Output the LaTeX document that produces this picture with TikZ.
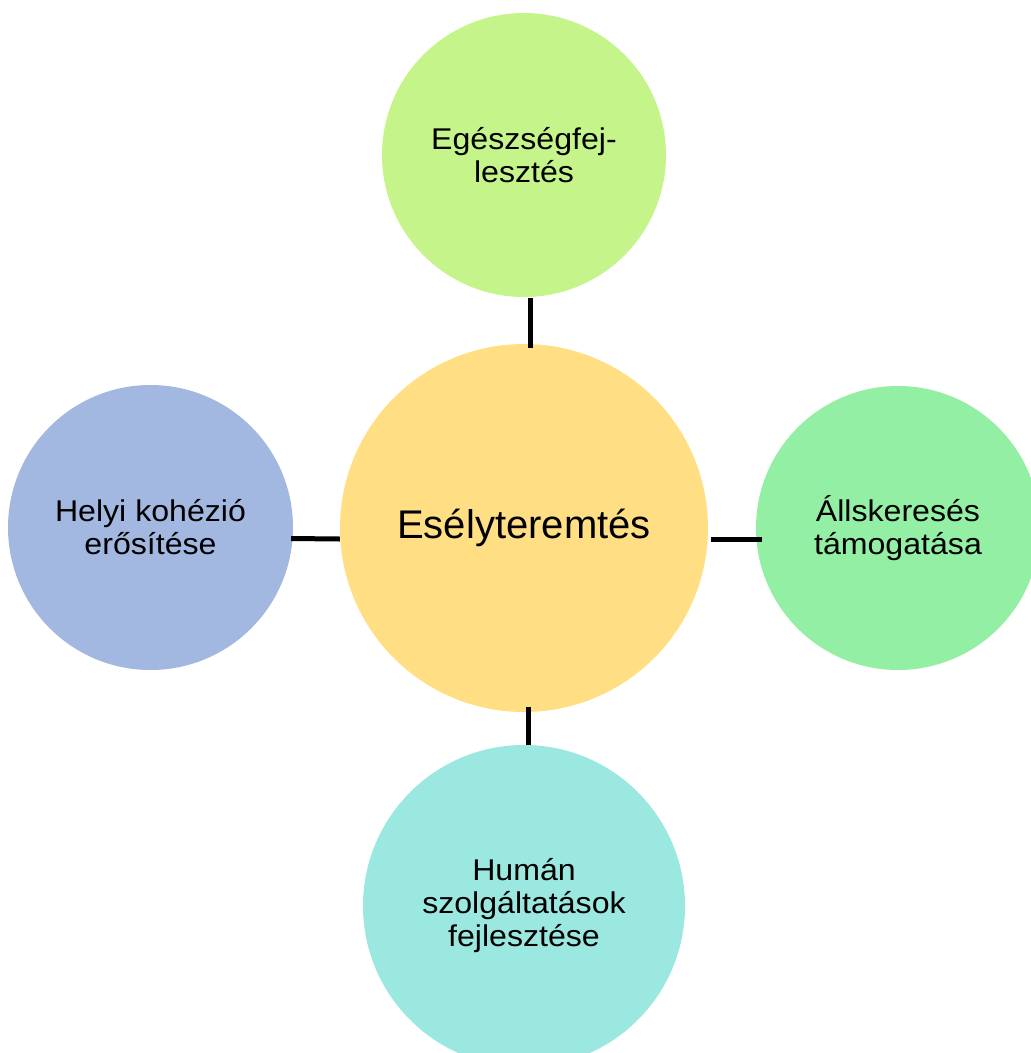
\documentclass[tikz,border=0pt]{standalone}
\usepackage{fontspec}
\setmainfont{Liberation Sans}
\newfontfamily\sidefont[FakeStretch=1.07]{Liberation Sans}
\definecolor{cyellow}{HTML}{FFDE84}
\definecolor{cgreenA}{HTML}{C5F58A}
\definecolor{cgreenB}{HTML}{93EFA3}
\definecolor{ccyan}{HTML}{9BE8E0}
\definecolor{cblue}{HTML}{A3B8E0}
\begin{document}
\begin{tikzpicture}[x=1pt,y=-1pt,
  bubble/.style={circle,inner sep=0pt,align=center,draw=none,
    font=\sidefont\fontsize{30}{33}\selectfont},
  link/.style={line width=5pt,black}]
\useasboundingbox (0,0) rectangle (1031,1053);
\clip (0,0) rectangle (1031,1053);
\node[bubble,fill=cyellow,minimum size=368pt,font=\rmfamily\fontsize{40}{45}\selectfont] (c) at (524,528) {Esélyteremtés};
\node[bubble,fill=cgreenA,minimum size=284pt] (t) at (524,155) {Egészségfej-\\lesztés};
\node[bubble,fill=cblue,minimum size=285pt] (l) at (150.5,527.5) {Helyi kohézió\\erősítése};
\node[bubble,fill=cgreenB,minimum size=284pt] (r) at (898,528) {Állskeresés\\támogatása};
\node[bubble,fill=ccyan,minimum size=322pt] (b) at (524,906) {Humán\\szolgáltatások\\fejlesztése};
\draw[link] ([xshift=6pt,yshift=-1pt]t.south) -- ([xshift=6pt,yshift=-4pt]c.north);
\draw[link] ([xshift=-2pt,yshift=-11pt]l.east) -- ([yshift=-11pt]c.west);
\draw[link] ([xshift=3pt,yshift=-11pt]c.east) -- ([xshift=6pt,yshift=-11pt]r.west);
\draw[link] ([xshift=4pt,yshift=5pt]c.south) -- ([xshift=4pt]b.north);
\end{tikzpicture}
\end{document}
